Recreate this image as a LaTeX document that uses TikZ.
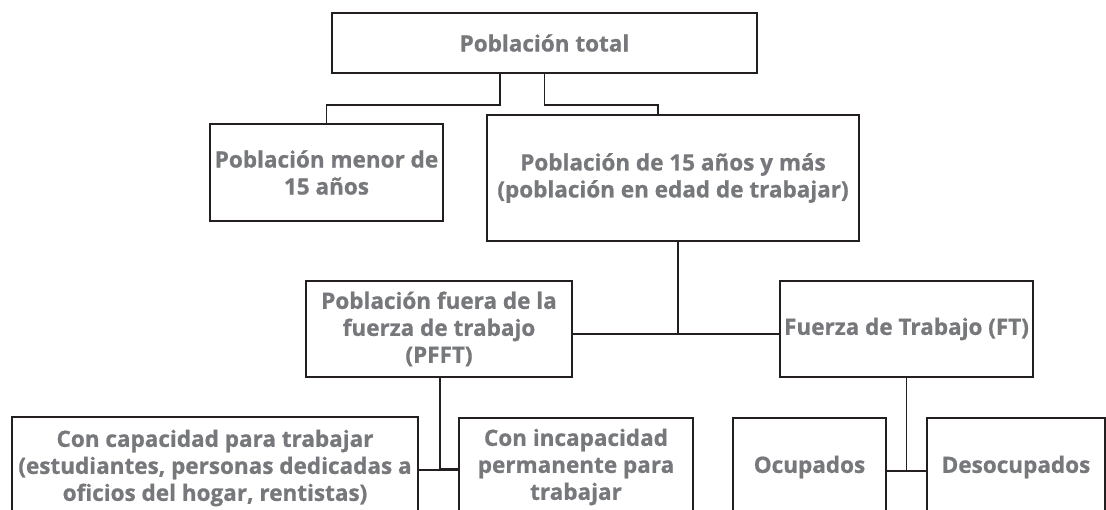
\documentclass[tikz,border=0pt]{standalone}
\usepackage{fontspec}
\setmainfont{Open Sans}[BoldFeatures={FakeBold=0.8}]
\definecolor{linec}{HTML}{231F20}
\definecolor{textgray}{HTML}{77787B}
\tikzset{
  box/.style={draw=linec, line width=1.8pt, fill=white, align=center, inner sep=0pt,
    text=textgray, font=\bfseries\fontsize{22.5}{27}\selectfont},
  conn/.style={draw=linec, line width=1.8pt}
}
\begin{document}
\begin{tikzpicture}[x=1pt,y=-1pt]
\useasboundingbox (0,0) rectangle (1106,509);
\clip (0,0) rectangle (1106,509);
\node[box, minimum width=425, minimum height=60] (top) at (544.5,43) {Población total};
\node[box, minimum width=233, minimum height=97] (menor) at (326.5,172.5) {Población menor de\\15 años};
\node[box, minimum width=372, minimum height=126] (big) at (673,178) {Población de 15 años y más\\(población en edad de trabajar)};
\node[box, minimum width=266, minimum height=96] (pfft) at (439,329) {Población fuera de la\\fuerza de trabajo\\(PFFT)};
\node[box, minimum width=253, minimum height=96] (ft) at (906.5,329) {Fuerza de Trabajo (FT)};
\node[box, minimum width=406, minimum height=102] (cap) at (215,468) {Con capacidad para trabajar\\(estudiantes, personas dedicadas a\\oficios del hogar, rentistas)};
\node[box, minimum width=234, minimum height=98] (inc) at (576,467) {Con incapacidad\\permanente para\\trabajar};
\node[box, minimum width=153, minimum height=98] (ocu) at (809.5,467) {Ocupados};
\node[box, minimum width=178, minimum height=98] (des) at (1016,467) {Desocupados};
\draw[conn] ([xshift=-44.5]top.south) -- ++(0,31) -| (menor.north);
\draw[conn] (top.south) -- ++(0,31) -| ([xshift=-15]big.north);
\draw[conn] ([xshift=5]big.south) |- ([yshift=-5]ft.west);
\draw[conn] ([yshift=-5]pfft.east) -- ([yshift=-5]ft.west);
\draw[conn] ([xshift=1]pfft.south) |- ([yshift=-2]inc.west);
\draw[conn] ([yshift=-2]cap.east) -- ([yshift=-3]inc.west);
\draw[conn] (ft.south) |- ([yshift=-4]des.west);
\draw[conn] ([yshift=-4]ocu.east) -- ([yshift=-4]des.west);
\end{tikzpicture}
\end{document}
